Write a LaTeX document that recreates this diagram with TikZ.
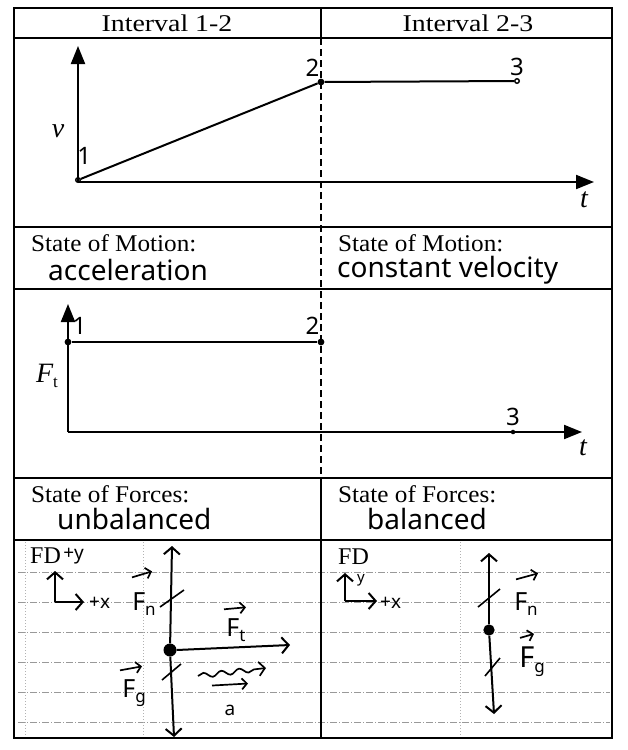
\documentclass[tikz,border=0pt]{standalone}
\usepackage{fontspec}
\setmainfont{Liberation Serif}
\newfontfamily\handfont{Noto Sans}
\usetikzlibrary{arrows.meta, positioning, decorations.pathmorphing}
\newcommand{\wide}[2][1.12]{\scalebox{#1}[1]{#2}}
\newcommand{\subtxt}[2][-5pt]{\raisebox{#1}{\fontsize{17}{18}\selectfont #2}}

\begin{document}
\begin{tikzpicture}[x=1pt, y=-1pt,
  frame/.style={line width=1.8pt},
  split/.style={line width=1.4pt, dash pattern=on 7pt off 4pt},
  notebook/.style={gray!80, line width=0.6pt, dash pattern=on 7pt off 2pt on 1pt off 2pt},
  faint/.style={gray!60, line width=0.6pt, dash pattern=on 1pt off 2pt},
  axis/.style={line width=2pt, -{Triangle[length=18pt,width=14pt]}},
  graph/.style={line width=2pt},
  dot/.style={circle, fill, inner sep=2.4pt},
  opendot/.style={circle, draw, line width=1.4pt, inner sep=1.6pt},
  head/.style={font=\fontsize{24}{26}\selectfont},
  label/.style={font=\fontsize{24}{26}\selectfont, anchor=west, inner sep=0pt},
  hand/.style={font=\handfont\fontsize{28}{30}\selectfont, anchor=west, inner sep=0pt},
  scrib/.style={font=\handfont\fontsize{24}{26}\selectfont, inner sep=1pt},
  small/.style={font=\handfont\fontsize{19}{21}\selectfont, inner sep=1pt},
  ital/.style={font=\fontsize{28}{30}\selectfont\itshape, inner sep=1pt},
  vlabel/.style={font=\handfont\fontsize{25}{27}\selectfont, inner sep=1pt},
  force/.style={line width=2pt, -{Straight Barb[length=7pt,width=16pt,line width=2pt]}},
  vecbar/.style={line width=1.7pt, -{Straight Barb[length=5pt,width=11pt,line width=1.7pt]}},
  tick/.style={line width=1.6pt}]
\useasboundingbox (0,0) rectangle (628,750);

\foreach \y in {572,602,632,662,692,722}
  \draw[notebook] (18,\y) -- (610,\y);
\foreach \x in {25,143,460}
  \draw[faint] (\x,542) -- (\x,736);

\draw[frame] (14,8) rectangle (612,738);
\foreach \y in {38,227,289,478,540}
  \draw[frame] (14,\y) -- (612,\y);
\draw[frame] (321,8) -- (321,38);
\draw[split] (321,38) -- (321,478);
\draw[frame] (321,478) -- (321,738);

\node[head] (int12) at (167,23) {\wide[1.16]{Interval 1-2}};
\node[head] (int23) at (468,23) {\wide[1.16]{Interval 2-3}};

\coordinate (o1) at (78,182);
\draw[axis] (o1) -- (78,46);
\draw[axis] (o1) -- (594,182);
\node[opendot] (p1) at (78,180) {};
\node[dot]     (p2) at (321,82) {};
\node[opendot] (p3) at (517,81) {};
\draw[graph] (p1) -- (p2) -- (p3);
\node[scrib, above right=12pt and -4pt of p1] (n1) {1};
\node[scrib, above left=2pt and -2pt of p2]  (n2) {2};
\node[scrib, above=1pt of p3]               (n3) {3};
\node[ital] (vlab) at (58,131) {v};
\node[ital] (tlab1) at (584,200) {t};

\node[label] (mot12) at (31,243) {\wide[1.05]{State of Motion:}};
\node[hand]  (acc)   at (48,270) {acceleration};
\node[label] (mot23) at (338,243) {\wide[1.05]{State of Motion:}};
\node[hand]  (cvel)  at (337,270) {constant velocity};

\coordinate (o2) at (68,432);
\draw[axis] (o2) -- (68,304);
\draw[axis] (o2) -- (582,432);
\node[dot] (q1) at (68,342) {};
\node[dot] (q2) at (321,342) {};
\node[dot, inner sep=1.6pt] (q3) at (513,432) {};
\draw[graph] (q1) -- (q2);
\node[scrib, above right=4pt and 1pt of q1]  (m1) {1};
\node[scrib, above left=4pt and -2pt of q2]  (m2) {2};
\node[scrib, above=3pt of q3]               (m3) {3};
\node[ital] (flab) at (47,376) {F\subtxt{\upshape t}};
\node[ital] (tlab2) at (583,448) {t};

\node[label] (for12) at (31,494) {\wide[1.05]{State of Forces:}};
\node[hand]  (unbal) at (57,519) {unbalanced};
\node[label] (for23) at (338,494) {\wide[1.05]{State of Forces:}};
\node[hand]  (bal)   at (367,519) {balanced};

\node[label] (fd1) at (30,556) {FD};
\node[small, right=1pt of fd1] (py1) {+y};
\coordinate (c1) at (55,602);
\draw[force] (c1) -- (55,571);
\draw[force] (c1) -- (84,602);
\node[small, anchor=west] (px1) at (88,603) {+x};
\node[circle, fill, minimum width=9pt, minimum height=13pt, inner sep=0pt] (body1) at (170,650) {};
\coordinate (fn1) at (172,546);
\coordinate (fg1) at (174,737);
\coordinate (ft1) at (290,645);
\draw[force] (body1) -- (fn1);
\draw[force] (body1) -- (fg1);
\draw[force] (body1.east) -- (ft1);
\draw[tick] (160,607) -- (184,590);
\draw[tick] (162,680) -- (181,664);
\node[vlabel] (lfn1) at (144,604) {F\subtxt{n}};
\node[vlabel] (lft1) at (236,630) {F\subtxt{t}};
\node[vlabel] (lfg1) at (134,693) {F\subtxt{g}};
\draw[vecbar] ([xshift=-12pt,yshift=14pt]lfn1.north) -- ++(20,-6);
\draw[vecbar] ([xshift=-12pt,yshift=8pt]lft1.north) -- ++(22,-2);
\draw[vecbar] ([xshift=-14pt,yshift=8pt]lfg1.north) -- ++(22,-4);
\coordinate (w0) at (198,676);
\coordinate (w1) at (266,668);
\draw[line width=1.7pt, decorate, decoration={snake, amplitude=2.5pt, segment length=18pt, post length=8pt},
      -{Straight Barb[length=6pt,width=14pt,line width=1.7pt]}] (w0) -- (w1);
\node[small] (alab) at (230,710) {a};
\draw[vecbar] ([xshift=-18pt,yshift=18pt]alab.north) -- ++(36,-2);

\node[label] (fd2) at (338,557) {FD};
\node[small, font=\handfont\fontsize{15}{16}\selectfont] (py2) at (361,580) {y};
\coordinate (c2) at (345,601);
\draw[force] (c2) -- (345,573);
\draw[force] (c2) -- (377,601);
\node[small, anchor=west] (px2) at (379,603) {+x};
\node[circle, fill, inner sep=4pt] (body2) at (489,630) {};
\coordinate (fn2) at (489,553);
\coordinate (fg2) at (494,714);
\draw[force] (body2) -- (fn2);
\draw[force] (body2) -- (fg2);
\draw[tick] (478,607) -- (500,589);
\draw[tick] (485,676) -- (500,658);
\node[vlabel] (lfn2) at (526,604) {F\subtxt{n}};
\node[vlabel, font=\handfont\fontsize{29}{31}\selectfont] (lfg2) at (532,662) {F\subtxt{g}};
\draw[vecbar] ([xshift=-10pt,yshift=12pt]lfn2.north) -- ++(22,-6);
\draw[vecbar] ([xshift=-12pt,yshift=8pt]lfg2.north) -- ++(14,-4);
\end{tikzpicture}
\end{document}
